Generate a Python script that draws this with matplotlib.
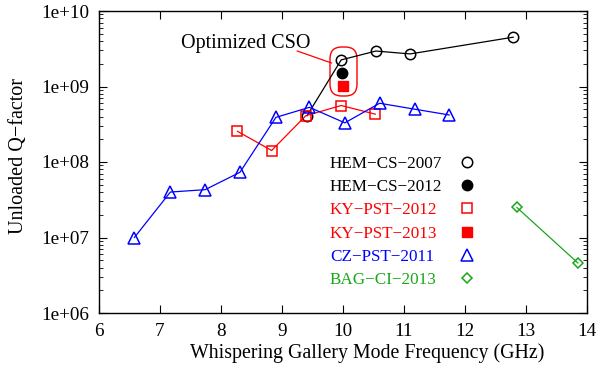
import matplotlib
matplotlib.use("Agg")
import matplotlib.pyplot as plt
from matplotlib.patches import FancyBboxPatch
from matplotlib.ticker import LogLocator, FixedLocator

plt.rcParams["font.family"] = ["Liberation Serif", "DejaVu Serif"]
plt.rcParams["font.size"] = 14

labels = ["HEM\u2212CS\u22122007", "HEM\u2212CS\u22122012", "KY\u2212PST\u22122012",
          "KY\u2212PST\u22122013", "CZ\u2212PST\u22122011", "BAG\u2212CI\u22122013"]
hem07_x = [9.41, 9.97, 10.54, 11.10, 12.79]
hem07_y = [4.1e8, 2.25e9, 2.95e9, 2.7e9, 4.5e9]
hem12_x = [9.98]
hem12_y = [1.5e9]
ky12_x = [8.27, 8.83, 9.39, 9.97, 10.53]
ky12_y = [2.55e8, 1.42e8, 4.1e8, 5.6e8, 4.3e8]
ky13_x = [10.0]
ky13_y = [1.02e9]
cz_x = [6.58, 7.17, 7.74, 8.31, 8.90, 9.45, 10.03, 10.60, 11.18, 11.74]
cz_y = [1.0e7, 4.0e7, 4.3e7, 7.3e7, 3.9e8, 5.3e8, 3.3e8, 6.0e8, 5.0e8, 4.2e8]
bag_x = [12.85, 13.85]
bag_y = [2.5e7, 4.6e6]
yticks = [1e6, 1e7, 1e8, 1e9, 1e10]
ytick_labels = ["1e+06", "1e+07", "1e+08", "1e+09", "1e+10"]

fig = plt.figure(figsize=(6, 3.69), dpi=100)
ax = fig.add_axes([99 / 600, 1 - 313 / 369, 488 / 600, 302 / 369])

green = "#1aa61a"
h = []
h += ax.plot(hem07_x, hem07_y, "-o", color="black", lw=0.9, ms=7.5, mfc="none", mew=1.1)
h += ax.plot(hem12_x, hem12_y, "o", color="black", ms=7.5)
h += ax.plot(ky12_x, ky12_y, "-s", color="red", lw=0.9, ms=7.5, mfc="none", mew=1.1)
h += ax.plot(ky13_x, ky13_y, "s", color="red", ms=7.5)
h += ax.plot(cz_x, cz_y, "-^", color="blue", lw=0.9, ms=8.5, mfc="none", mew=1.1)
h += ax.plot(bag_x, bag_y, "-D", color=green, lw=0.9, ms=5.2, mfc="none", mew=1.1)

# annotation: pointer line + label
ax.plot([9.25, 9.81], [2.95e9, 2.05e9], color="red", lw=0.9)
ax.text(9.47, 3.7e9, "Optimized CSO", ha="right", va="center", fontsize=14.5)

# rounded box around the optimized points (axes coords)
bx0, bx1 = (330 - 99) / 488, (357 - 99) / 488
by0, by1 = (313 - 96) / 302, (313 - 47) / 302
rbox = FancyBboxPatch((bx0, by0), bx1 - bx0, by1 - by0,
                      boxstyle="round,pad=0,rounding_size=0.024",
                      transform=ax.transAxes, fc="none", ec="red", lw=1.0,
                      mutation_aspect=488 / 302)
ax.add_patch(rbox)

ax.set_yscale("log")
ax.set_xlim(6, 14)
ax.set_ylim(1e6, 1e10)
ax.set_xticks(range(6, 15))
ax.yaxis.set_major_locator(FixedLocator(yticks))
ax.yaxis.set_minor_locator(LogLocator(base=10, subs=range(2, 10), numticks=50))
ax.set_yticklabels(ytick_labels)
ax.tick_params(which="major", direction="in", length=6, top=True, right=True, width=0.8, labelsize=13.8)
ax.tick_params(which="minor", direction="in", length=3, right=True, width=0.6)
ax.tick_params(axis="x", which="major", pad=7)
ax.tick_params(axis="y", which="major", pad=7)
ax.set_xlabel("Whispering Gallery Mode Frequency (GHz)", fontsize=14.3)
ax.set_ylabel("Unloaded Q\u2212factor", fontsize=14.5)
ax.xaxis.set_label_coords(0.549, -0.1)
ax.yaxis.set_label_coords(-0.145, 0.52)
for s in ax.spines.values():
    s.set_linewidth(1.0)

# legend: left-aligned coloured text, marker column on the right
leg_txt = ax.legend(h, labels, loc="lower left", bbox_to_anchor=(0.473, 0.083), frameon=False,
                    labelcolor="linecolor", handlelength=0, handletextpad=0,
                    labelspacing=0.42, fontsize=12.3, borderaxespad=0, borderpad=0)
for lh in leg_txt.legend_handles:
    lh.set_visible(False)
ax.add_artist(leg_txt)
leg_mk = ax.legend(h, [""] * len(h), loc="lower left", bbox_to_anchor=(0.736, 0.083), frameon=False,
                   handlelength=1.0, handletextpad=0,
                   labelspacing=0.42, fontsize=12.3, borderaxespad=0, borderpad=0)
for lh in leg_mk.legend_handles:
    lh.set_linestyle("none")

fig.savefig("out.png", dpi=100)
